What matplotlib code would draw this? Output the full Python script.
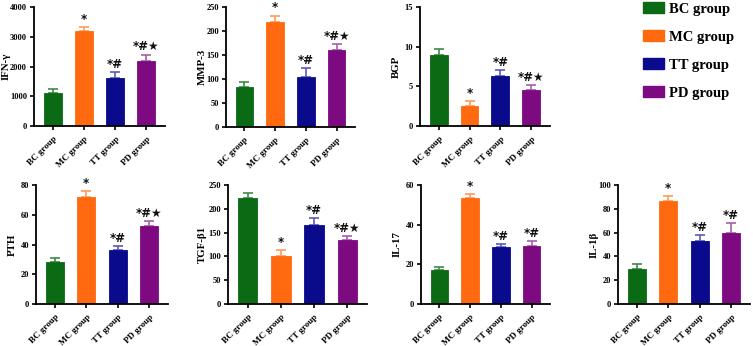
import numpy as np
import matplotlib
matplotlib.use("Agg")
import matplotlib.pyplot as plt
from matplotlib.patches import Patch

groups = ["BC group", "MC group", "TT group", "PD group"]

# mean values and upper error (SD)
ifn_mean = [1100, 3190, 1620, 2180]
ifn_err = [130, 140, 180, 220]
mmp_mean = [84, 218, 104, 160]
mmp_err = [9, 14, 18, 12]
bgp_mean = [9.0, 2.55, 6.3, 4.55]
bgp_err = [0.65, 0.55, 0.7, 0.6]
pth_mean = [27.9, 72.0, 36.2, 52.4]
pth_err = [2.7, 4.0, 2.7, 3.5]
tgf_mean = [222, 101, 166, 134]
tgf_err = [11, 12, 14, 9]
il17_mean = [17.1, 53.3, 28.6, 29.3]
il17_err = [1.8, 2.2, 1.5, 2.3]
il1b_mean = [29.2, 86.6, 52.9, 59.6]
il1b_err = [4.2, 4.2, 4.8, 8.1]

ifn_marks = ["", "*", "*#", "*#★"]
mmp_marks = ["", "*", "*#", "*#★"]
bgp_marks = ["", "*", "*#", "*#★"]
pth_marks = ["", "*", "*#", "*#★"]
tgf_marks = ["", "*", "*#", "*#★"]
il17_marks = ["", "*", "*#", "*#"]
il1b_marks = ["", "*", "*#", "*#"]

colors = ["#0b6a14", "#ff6a10", "#0a0a8c", "#7e0a82"]
err_colors = ["#3f8a45", "#ff9a5a", "#5a5ab8", "#a660a8"]

plt.rcParams["font.family"] = ["Liberation Serif", "DejaVu Serif"]

W, H = 753, 346
fig = plt.figure(figsize=(W / 100, H / 100), dpi=100)


def panel(px_left, px_right, px_top, px_bottom, mean, err, marks, ylabel, ymax, ystep,
          label_off=-19):
    ax = fig.add_axes([px_left / W, 1 - px_bottom / H,
                       (px_right - px_left) / W, (px_bottom - px_top) / H])
    x = np.arange(len(groups))
    ax.bar(x, mean, width=0.58, color=colors, edgecolor=colors, linewidth=0.6, zorder=2)
    for i in range(len(groups)):
        ax.errorbar(x[i], mean[i], yerr=[[0], [err[i]]], fmt="none",
                    ecolor=err_colors[i], elinewidth=1.2, capsize=3.5, capthick=1.2, zorder=1)
        if marks[i]:
            ax.text(x[i], mean[i] + err[i] + ymax * 0.01, marks[i], ha="center", va="bottom",
                    fontsize=8.5, fontweight="bold", family="DejaVu Sans", color="#111111")
    ax.set_xlim(-0.6, 3.6)
    ax.set_ylim(0, ymax)
    ax.set_yticks(np.arange(0, ymax + ystep / 2, ystep))
    ax.set_xticks(x)
    ax.set_xticklabels(groups, rotation=45, ha="right", rotation_mode="anchor",
                       fontsize=6.5, fontweight="bold")
    for lab in ax.get_yticklabels():
        lab.set_fontsize(6)
        lab.set_fontweight("bold")
    ax.set_ylabel(ylabel, fontsize=7.8, fontweight="bold")
    # label sits a fixed distance left of the axis in the reference
    ax.yaxis.set_label_coords(label_off / (px_right - px_left), 0.5)
    for s in ["top", "right"]:
        ax.spines[s].set_visible(False)
    for s in ["left", "bottom"]:
        ax.spines[s].set_linewidth(1.3)
    ax.tick_params(direction="out", length=3, width=1.2, pad=2)
    ax.tick_params(axis="x", pad=3.5)
    return ax


panel(34, 165, 7, 126, ifn_mean, ifn_err, ifn_marks, "IFN-γ", 4000, 1000, label_off=-23)
panel(226, 355, 7, 127, mmp_mean, mmp_err, mmp_marks, "MMP-3", 250, 50)
panel(420, 550, 7, 126, bgp_mean, bgp_err, bgp_marks, "BGP", 15, 5)
panel(36, 168, 185, 304, pth_mean, pth_err, pth_marks, "PTH", 80, 20)
panel(228, 367, 185, 304, tgf_mean, tgf_err, tgf_marks, "TGF-β1", 250, 50, label_off=-21)
panel(421, 550, 185, 304, il17_mean, il17_err, il17_marks, "IL-17", 60, 20)
panel(618, 750, 185, 304, il1b_mean, il1b_err, il1b_marks, "IL-1β", 100, 20)

handles = [Patch(facecolor=c, edgecolor=c) for c in colors]
fig.legend(handles, groups, loc="upper left", bbox_to_anchor=(643 / W, 1 - 2 / H),
           frameon=False, prop={"size": 10.5, "weight": "bold"},
           borderpad=0, borderaxespad=0,
           handlelength=1.45, handleheight=0.82, labelspacing=0.98, handletextpad=0.35)

fig.savefig("out.png", dpi=100)
